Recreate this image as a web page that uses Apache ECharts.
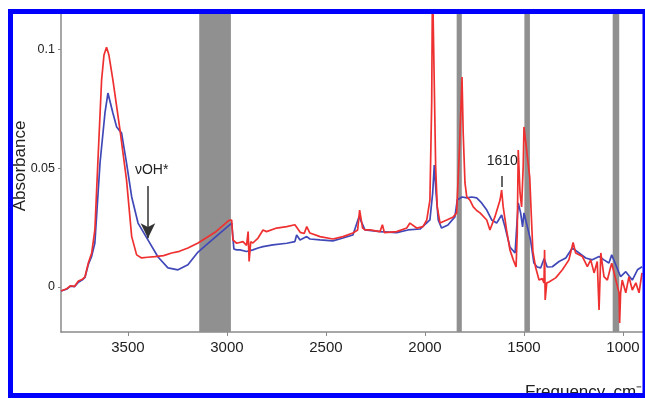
<!DOCTYPE html>
<html><head><meta charset="utf-8">
<script src="https://cdn.jsdelivr.net/npm/echarts@6/dist/echarts.min.js"></script>
<style>html,body{margin:0;padding:0;background:#fff}#c{width:645px;height:398px}</style>
</head><body><div id="c"></div>
<script>
const redFreq = [3838,3810,3790,3770,3750,3730,3717,3700,3683,3667,3652,3633,3621,3608,3596,3576,3540,3507,3481,3456,3431,3400,3364,3320,3279,3240,3197,3146,3060,2990,
  2976,2970,2951,2919,2901,2893,2888,2880,2869,2843,2818,2800,2749,2698,2657,2648,2630,2623,2610,2597,2581,2530,2465,2414,2364,2340,2330,2315,2303,2278,2227,2215,2205,2143,2092,2076,2042,2010,1991,1975,1966,1962,1958,1946,1938,1924,1890,1857,1840,1825,
  1813,1807,1798,1789,1773,1756,1739,1722,1688,1672,1647,1621,1613,1605,1588,1571,1554,1540,1534,1529,1520,1512,1504,1500,
  1471,1463,1455,1442,1424,1408,1399,1396,1393,1385,1374,1340,1306,1273,1252,1239,1205,1180,1163,1146,1130,1121,1112,1096,1079,1062,1057,
  1020,1017,1012,1004,986,970,953,935,919,904];
const redAbs = [-0.0017,-0.0008,0.0005,0.0002,0.0025,0.0032,0.0042,0.0101,0.0143,0.024,0.0522,0.0872,0.0977,0.101,0.0977,0.0872,0.0661,0.045,0.0212,0.0135,0.0122,0.0125,0.0128,0.0132,0.0143,0.015,0.0164,0.0185,0.023,0.028,
  0.0282,0.0198,0.0184,0.0191,0.0175,0.0233,0.0107,0.019,0.0185,0.0206,0.024,0.0233,0.0248,0.0254,0.0262,0.0265,0.023,0.023,0.0225,0.0254,0.0227,0.0212,0.0202,0.0212,0.0227,0.024,0.0324,0.0248,0.024,0.024,0.0233,0.0262,0.0229,0.0233,0.0248,0.0269,0.0248,0.0254,0.0282,0.0366,0.078,0.13,0.13,0.0505,0.0337,0.0269,0.0282,0.0295,0.0312,0.06,
  0.0884,0.0648,0.0438,0.0379,0.0366,0.0337,0.0322,0.0312,0.0282,0.024,0.0295,0.0366,0.0408,0.0337,0.024,0.0156,0.0114,0.0084,0.0227,0.0577,0.0396,0.0337,0.0505,0.0674,
  0.0463,0.03,0.015,0.0085,0.0029,0.0035,0.0017,0.0156,-0.0055,0.0017,0.0021,0.0038,0.0072,0.0114,0.0187,0.0143,0.0128,0.0085,0.0114,0.0059,0.0107,-0.0097,0.0143,0.0043,0.0029,0.0085,0.01,
  -0.0025,-0.0152,-0.0025,0.0029,-0.0025,0.0043,-0.0013,0.0017,-0.0025,0.0059];

const blueFreq = [3838,3810,3790,3770,3750,3730,3717,3700,3683,3667,3641,3616,3601,3576,3557,3532,3507,3481,3449,3399,3348,3298,3247,3197,3146,3100,
  2976,2965,2951,2934,2901,2869,2843,2818,2768,2698,2657,2648,2631,2597,2581,2530,2465,2414,2364,2333,2303,2227,2143,2086,2025,1975,1961,1953,1944,1933,1916,1884,1849,1837,
  1813,1789,1764,1739,1714,1688,1663,1638,1613,1596,1571,1545,1529,1517,1507,1500,
  1467,1450,1433,1416,1398,1383,1357,1323,1289,1256,1222,1188,1155,1121,1096,1071,1057,
  1012,986,953,927,904];
const blueAbs = [-0.0017,-0.001,0.0003,0.0001,0.002,0.003,0.004,0.0095,0.013,0.0185,0.0522,0.0733,0.0817,0.0733,0.0674,0.0648,0.0522,0.0379,0.0269,0.0198,0.0126,0.008,0.0072,0.0093,0.0147,0.018,
  0.0269,0.016,0.0156,0.0156,0.0149,0.0156,0.0164,0.017,0.0177,0.0184,0.0191,0.0219,0.0198,0.0212,0.0202,0.0198,0.0194,0.0206,0.0219,0.0296,0.024,0.0233,0.0229,0.024,0.0244,0.0282,0.0396,0.0514,0.0396,0.0282,0.0248,0.0261,0.0295,0.0366,
  0.0379,0.0375,0.0379,0.0375,0.0354,0.0324,0.0282,0.0269,0.0303,0.0253,0.0168,0.0143,0.0354,0.0312,0.0253,0.0312,
  0.0198,0.0101,0.0084,0.008,0.012,0.0084,0.0085,0.0107,0.0122,0.0164,0.0143,0.0122,0.0114,0.0128,0.0114,0.0101,0.0135,
  0.0043,0.0064,0.0029,0.0072,0.0085];

const bandFrom = [3140, 1840, 1498, 1052];
const bandTo = [2980, 1814, 1470, 1019];
const xTicks = [3500, 3000, 2500, 2000, 1500, 1000];
const yTicks = [0, 0.05, 0.1];
const noteText = ['νOH*', '1610'];
const noteFreq = [3380, 1610];
const noteAbs = [0.0493, 0.053];
const arrowFreq = 3399, arrowTop = 0.0425, arrowTip = 0.0205;
const tickFreq = 1610, tickTop = 0.0467, tickBottom = 0.0421;

const pairs = (xs, ys) => xs.map((x, i) => [x, ys[i]]);
const font = 'Liberation Sans, Arial, sans-serif';
const chart = echarts.init(document.getElementById('c'));
chart.setOption({
  animation: false,
  grid: { left: 61, right: 2, top: 14, bottom: 66 },
  xAxis: {
    type: 'value', inverse: true, min: 899, max: 3838,
    axisLine: { onZero: false, lineStyle: { color: '#8a8a8a', width: 1.5 } },
    axisTick: { customValues: xTicks, length: 4, lineStyle: { color: '#8a8a8a' } },
    axisLabel: { customValues: xTicks, fontSize: 15, color: '#222', margin: 8, fontFamily: font,
      formatter: v => String(v) },
    splitLine: { show: false }
  },
  yAxis: {
    type: 'value', min: -0.019, max: 0.115,
    axisLine: { show: true, onZero: false, lineStyle: { color: '#8a8a8a', width: 1.5 } },
    axisTick: { show: true, customValues: yTicks, length: 3, lineStyle: { color: '#8a8a8a' } },
    axisLabel: { customValues: yTicks, fontSize: 12.5, color: '#222', margin: 6, fontFamily: font,
      formatter: v => String(v) },
    splitLine: { show: false }
  },
  series: [
    { type: 'line', data: pairs(blueFreq, blueAbs), showSymbol: false, z: 2,
      lineStyle: { color: '#4048b8', width: 1.7 }, clip: true },
    { type: 'line', data: pairs(redFreq, redAbs), showSymbol: false, z: 3,
      lineStyle: { color: '#ef3030', width: 1.7 }, clip: true },
    { type: 'line', data: [], z: 5, silent: true,
      markArea: { silent: true, itemStyle: { color: '#909090', opacity: 1 },
        data: bandFrom.map((f, i) => [{ xAxis: f }, { xAxis: bandTo[i] }]) } },
    { type: 'line', data: [], z: 6, silent: true,
      markLine: { silent: true, animation: false, label: { show: false },
        data: [
          [{ coord: [arrowFreq, arrowTop], symbol: 'none' }, { coord: [arrowFreq, arrowTip], symbol: 'arrow', symbolSize: [11, 15] }],
          [{ coord: [tickFreq, tickTop], symbol: 'none' }, { coord: [tickFreq, tickBottom], symbol: 'none' }]
        ],
        lineStyle: { color: '#333', width: 1.5, type: 'solid' } },
      markPoint: { silent: true, symbol: 'circle', symbolSize: 0,
        label: { show: true, position: 'inside', formatter: '{b}', fontSize: 14, color: '#222', fontFamily: font },
        data: noteText.map((t, i) => ({ name: t, coord: [noteFreq[i], noteAbs[i]] })) } }
  ],
  graphic: [
    { type: 'text', x: 20, y: 166, rotation: Math.PI / 2, z: 50,
      style: { text: 'Absorbance', font: '17px ' + font, fill: '#222', textAlign: 'center', textVerticalAlign: 'middle' } },
    { type: 'text', left: 525, top: 384, z: 50,
      style: { text: 'Frequency, cm⁻¹', font: '17px ' + font, fill: '#222' } },
    { type: 'rect', z: 100, shape: { x: 10.5, y: 11.5, width: 634.5, height: 384 },
      style: { fill: null, stroke: '#0000ff', lineWidth: 5 } }
  ]
});
</script>
</body></html>
